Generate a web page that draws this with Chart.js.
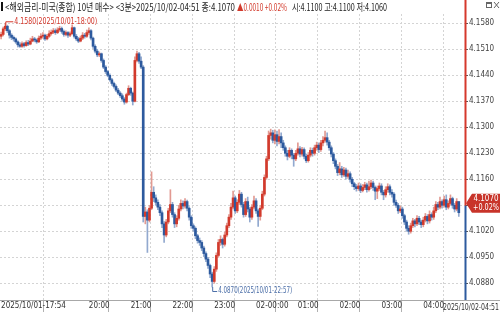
<!DOCTYPE html>
<html><head><meta charset="utf-8">
<script src="https://cdn.jsdelivr.net/npm/chart.js@4/dist/chart.umd.min.js"></script>
<style>html,body{margin:0;padding:0;background:#fff;}#wrap{width:500px;height:314px;}</style>
</head><body><div id="wrap"><canvas id="c" width="500" height="314"></canvas></div>
<script>
// ---- data (3-minute candles, 2025/10/01 17:54 -> 2025/10/02 04:51) ----
const openV=[4.1545,4.1550,4.1565,4.1572,4.1560,4.1548,4.1542,4.1538,4.1530,4.1522,
4.1518,4.1525,4.1520,4.1528,4.1524,4.1532,4.1538,4.1535,4.1530,4.1540,
4.1545,4.1548,4.1538,4.1545,4.1552,4.1556,4.1560,4.1555,4.1562,4.1566,
4.1558,4.1550,4.1555,4.1548,4.1552,4.1568,4.1545,4.1538,4.1532,4.1540,
4.1548,4.1545,4.1555,4.1560,4.1540,4.1518,4.1505,4.1495,4.1498,4.1480,
4.1462,4.1450,4.1440,4.1428,4.1418,4.1410,4.1400,4.1392,4.1385,4.1376,
4.1368,4.1388,4.1405,4.1392,4.1370,4.1480,4.1498,4.1478,4.1462,4.1060,
4.1072,4.1050,4.1082,4.1125,4.1110,4.1098,4.1085,4.1070,4.1040,4.1010,
4.1045,4.1075,4.1092,4.1065,4.1040,4.1055,4.1080,4.1095,4.1088,4.1100,
4.1082,4.1058,4.1035,4.1028,4.1008,4.0995,4.0990,4.0975,4.0960,4.0945,
4.0928,4.0905,4.0885,4.0918,4.0955,4.0990,4.0998,4.0985,4.1010,4.1035,
4.1058,4.1085,4.1110,4.1075,4.1098,4.1120,4.1092,4.1065,4.1100,4.1080,
4.1058,4.1085,4.1102,4.1075,4.1060,4.1082,4.1120,4.1165,4.1215,4.1278,
4.1285,4.1265,4.1280,4.1262,4.1275,4.1258,4.1245,4.1230,4.1222,4.1238,
4.1225,4.1215,4.1230,4.1242,4.1228,4.1240,4.1222,4.1210,4.1225,4.1238,
4.1230,4.1245,4.1252,4.1240,4.1258,4.1265,4.1272,4.1260,4.1245,4.1228,
4.1210,4.1195,4.1178,4.1188,4.1172,4.1185,4.1168,4.1175,4.1160,4.1148,
4.1140,4.1135,4.1142,4.1130,4.1138,4.1145,4.1132,4.1140,4.1150,4.1138,
4.1128,4.1135,4.1142,4.1125,4.1118,4.1132,4.1140,4.1125,4.1120,4.1098,
4.1090,4.1075,4.1080,4.1062,4.1045,4.1028,4.1020,4.1035,4.1048,4.1040,
4.1055,4.1045,4.1038,4.1050,4.1060,4.1048,4.1065,4.1058,4.1075,4.1092,
4.1085,4.1100,4.1090,4.1105,4.1085,4.1095,4.1108,4.1090,4.1080,4.1100];
const highV=[4.1556,4.1570,4.1580,4.1575,4.1563,4.1552,4.1546,4.1541,4.1533,4.1528,
4.1530,4.1529,4.1533,4.1534,4.1540,4.1545,4.1542,4.1538,4.1546,4.1552,
4.1555,4.1551,4.1550,4.1560,4.1562,4.1566,4.1565,4.1568,4.1572,4.1570,
4.1562,4.1560,4.1558,4.1557,4.1576,4.1570,4.1550,4.1542,4.1546,4.1555,
4.1553,4.1562,4.1568,4.1563,4.1543,4.1522,4.1510,4.1503,4.1500,4.1484,
4.1466,4.1453,4.1444,4.1432,4.1422,4.1414,4.1405,4.1396,4.1390,4.1380,
4.1392,4.1412,4.1408,4.1395,4.1490,4.1505,4.1502,4.1490,4.1466,4.1085,
4.1078,4.1090,4.1180,4.1140,4.1118,4.1105,4.1092,4.1075,4.1046,4.1052,
4.1082,4.1132,4.1098,4.1070,4.1062,4.1090,4.1105,4.1102,4.1108,4.1104,
4.1086,4.1062,4.1040,4.1032,4.1012,4.1002,4.0995,4.0980,4.0965,4.0950,
4.0932,4.0910,4.0925,4.0962,4.0998,4.1008,4.1002,4.1018,4.1042,4.1065,
4.1095,4.1128,4.1115,4.1105,4.1130,4.1125,4.1098,4.1108,4.1112,4.1085,
4.1092,4.1115,4.1108,4.1080,4.1090,4.1128,4.1172,4.1222,4.1290,4.1295,
4.1292,4.1293,4.1290,4.1294,4.1285,4.1265,4.1250,4.1238,4.1245,4.1242,
4.1230,4.1238,4.1258,4.1248,4.1246,4.1245,4.1228,4.1232,4.1245,4.1244,
4.1252,4.1260,4.1258,4.1265,4.1275,4.1290,4.1285,4.1265,4.1250,4.1232,
4.1215,4.1200,4.1205,4.1195,4.1192,4.1190,4.1185,4.1180,4.1165,4.1152,
4.1146,4.1150,4.1148,4.1146,4.1152,4.1150,4.1155,4.1158,4.1155,4.1142,
4.1142,4.1150,4.1148,4.1130,4.1140,4.1148,4.1145,4.1132,4.1124,4.1104,
4.1095,4.1088,4.1085,4.1066,4.1050,4.1035,4.1042,4.1055,4.1052,4.1062,
4.1060,4.1050,4.1058,4.1068,4.1065,4.1075,4.1070,4.1085,4.1100,4.1098,
4.1112,4.1105,4.1115,4.1118,4.1102,4.1118,4.1112,4.1095,4.1108,4.1100];
const lowV=[4.1538,4.1546,4.1560,4.1555,4.1540,4.1536,4.1532,4.1526,4.1516,4.1515,
4.1515,4.1516,4.1518,4.1520,4.1522,4.1530,4.1530,4.1526,4.1528,4.1536,
4.1540,4.1534,4.1535,4.1542,4.1548,4.1552,4.1550,4.1552,4.1558,4.1553,
4.1545,4.1546,4.1542,4.1544,4.1550,4.1540,4.1533,4.1528,4.1530,4.1536,
4.1540,4.1542,4.1550,4.1535,4.1512,4.1500,4.1490,4.1490,4.1475,4.1458,
4.1445,4.1436,4.1424,4.1413,4.1405,4.1396,4.1388,4.1380,4.1370,4.1362,
4.1365,4.1385,4.1386,4.1360,4.1368,4.1476,4.1472,4.1458,4.1045,4.1040,
4.0963,4.1045,4.1078,4.1100,4.1090,4.1078,4.1062,4.1030,4.0990,4.1005,
4.1040,4.1070,4.1058,4.1030,4.1032,4.1050,4.1075,4.1080,4.1082,4.1075,
4.1050,4.1028,4.1020,4.1000,4.0988,4.0982,4.0968,4.0952,4.0938,4.0920,
4.0895,4.0870,4.0880,4.0912,4.0950,4.0982,4.0975,4.0980,4.1005,4.1030,
4.1052,4.1080,4.1068,4.1070,4.1092,4.1085,4.1058,4.1060,4.1072,4.1045,
4.1052,4.1080,4.1068,4.1033,4.1050,4.1078,4.1115,4.1160,4.1210,4.1268,
4.1258,4.1255,4.1250,4.1255,4.1245,4.1238,4.1222,4.1212,4.1218,4.1215,
4.1195,4.1210,4.1225,4.1220,4.1222,4.1215,4.1205,4.1206,4.1220,4.1222,
4.1225,4.1238,4.1232,4.1235,4.1250,4.1260,4.1252,4.1238,4.1220,4.1202,
4.1188,4.1170,4.1172,4.1165,4.1168,4.1160,4.1162,4.1152,4.1140,4.1132,
4.1128,4.1130,4.1124,4.1126,4.1132,4.1125,4.1128,4.1135,4.1130,4.1105,
4.1108,4.1130,4.1118,4.1105,4.1112,4.1125,4.1118,4.1112,4.1090,4.1084,
4.1068,4.1070,4.1055,4.1038,4.1020,4.1012,4.1015,4.1030,4.1032,4.1035,
4.1038,4.1030,4.1032,4.1045,4.1040,4.1042,4.1050,4.1052,4.1070,4.1078,
4.1080,4.1082,4.1085,4.1078,4.1080,4.1090,4.1082,4.1072,4.1075,4.1060];
const closeV=[4.1550,4.1565,4.1572,4.1560,4.1548,4.1542,4.1538,4.1530,4.1522,4.1518,
4.1525,4.1520,4.1528,4.1524,4.1532,4.1538,4.1535,4.1530,4.1540,4.1545,
4.1548,4.1538,4.1545,4.1552,4.1556,4.1560,4.1555,4.1562,4.1566,4.1558,
4.1550,4.1555,4.1548,4.1552,4.1568,4.1545,4.1538,4.1532,4.1540,4.1548,
4.1545,4.1555,4.1560,4.1540,4.1518,4.1505,4.1495,4.1498,4.1480,4.1462,
4.1450,4.1440,4.1428,4.1418,4.1410,4.1400,4.1392,4.1385,4.1376,4.1368,
4.1388,4.1405,4.1392,4.1370,4.1480,4.1498,4.1478,4.1462,4.1060,4.1072,
4.1050,4.1082,4.1125,4.1110,4.1098,4.1085,4.1070,4.1040,4.1010,4.1045,
4.1075,4.1092,4.1065,4.1040,4.1055,4.1080,4.1095,4.1088,4.1100,4.1082,
4.1058,4.1035,4.1028,4.1008,4.0995,4.0990,4.0975,4.0960,4.0945,4.0928,
4.0905,4.0885,4.0918,4.0955,4.0990,4.0998,4.0985,4.1010,4.1035,4.1058,
4.1085,4.1110,4.1075,4.1098,4.1120,4.1092,4.1065,4.1100,4.1080,4.1058,
4.1085,4.1102,4.1075,4.1060,4.1082,4.1120,4.1165,4.1215,4.1278,4.1285,
4.1265,4.1280,4.1262,4.1275,4.1258,4.1245,4.1230,4.1222,4.1238,4.1225,
4.1215,4.1230,4.1242,4.1228,4.1240,4.1222,4.1210,4.1225,4.1238,4.1230,
4.1245,4.1252,4.1240,4.1258,4.1265,4.1272,4.1260,4.1245,4.1228,4.1210,
4.1195,4.1178,4.1188,4.1172,4.1185,4.1168,4.1175,4.1160,4.1148,4.1140,
4.1135,4.1142,4.1130,4.1138,4.1145,4.1132,4.1140,4.1150,4.1138,4.1128,
4.1135,4.1142,4.1125,4.1118,4.1132,4.1140,4.1125,4.1120,4.1098,4.1090,
4.1075,4.1080,4.1062,4.1045,4.1028,4.1020,4.1035,4.1048,4.1040,4.1055,
4.1045,4.1038,4.1050,4.1060,4.1048,4.1065,4.1058,4.1075,4.1092,4.1085,
4.1100,4.1090,4.1105,4.1085,4.1095,4.1108,4.1090,4.1080,4.1100,4.1070];
const hourIndex=[0,42,62,82,102,122,142,162,182,202];
const hourLabels=['2025/10/01-17:54','20:00','21:00','22:00','23:00','02-00:00','01:00','02:00','03:00','04:00'];
const lastLabel='2025/10/02-04:51';
const highLabel='4.1580(2025/10/01-18:00)';
const lowLabel='4.0870(2025/10/01-22:57)';
const yTicks=[4.0880,4.0950,4.1020,4.1090,4.1160,4.1230,4.1300,4.1370,4.1440,4.1510,4.1580];
const headerMain='<해외금리-미국(종합) 10년 매수> <3분>2025/10/02-04:51 종:4.1070';
const headerChg='▲0.0010 +0.02%';
const headerOHL='시:4.1100 고:4.1100 저:4.1060';
const boxLines=['4.1070','+0.02%'];

// ---- chart ----
const C_UP='#d23a2c', C_DN='#2d5a9e', W_UP='#e29a92', W_DN='#92a9cf';
const AX_FONT="'DejaVu Sans Condensed','Liberation Sans Narrow','Liberation Sans',sans-serif";
const idx=closeV.map((_,i)=>i);
const isUp=i=>closeV[i]>=openV[i];

const overlay={
  id:'overlay',
  afterDraw(chart){
    const ctx=chart.ctx, ca=chart.chartArea, xs=chart.scales.x, ys=chart.scales.y;
    ctx.save();
    // header
    ctx.fillStyle='#111'; ctx.fillRect(1,2,2,9);
    ctx.textBaseline='middle'; ctx.textAlign='left';
    ctx.font="10px 'Noto Sans CJK KR'";
    ctx.fillStyle='#222'; ctx.fillText(headerMain,5,7,230);
    ctx.fillStyle='#d23a2c'; ctx.fillText(headerChg,237,7,50);
    ctx.fillStyle='#222'; ctx.fillText(headerOHL,292,7,95);
    // window icons
    ctx.strokeStyle='#666'; ctx.lineWidth=1;
    ctx.strokeRect(486.5,2.5,5,5); ctx.fillStyle='#666'; ctx.fillRect(486,2,6,2);
    ctx.beginPath(); ctx.moveTo(494,2); ctx.lineTo(499,8); ctx.moveTo(499,2); ctx.lineTo(494,8); ctx.stroke();
    // bottom axis strip line
    ctx.fillStyle='#a8a8a8'; ctx.fillRect(0,ca.bottom,500,1);
    // last time label
    ctx.font="8px "+AX_FONT; ctx.fillStyle='#333'; ctx.textAlign='right'; ctx.textBaseline='middle';
    ctx.fillText(lastLabel,499,307.5,56);
    // right axis line (red above current price, blue below)
    const last=closeV.length-1;
    const yp=ys.getPixelForValue(closeV[last]);
    const split=yp-7;
    ctx.fillStyle='#d5382c'; ctx.fillRect(ca.right-0.5,0,2,split);
    ctx.fillStyle='#2d5a9e'; ctx.fillRect(ca.right-0.5,split,2,ca.bottom-split);
    // price box
    const bt=yp-19, bb=yp, bm=(bt+bb)/2;
    ctx.fillStyle='#c8342a';
    ctx.beginPath(); ctx.moveTo(ca.right+1,bm); ctx.lineTo(ca.right+7,bt); ctx.lineTo(500,bt); ctx.lineTo(500,bb); ctx.lineTo(ca.right+7,bb); ctx.closePath(); ctx.fill();
    ctx.fillStyle='#fff'; ctx.textAlign='center'; ctx.font="8px "+AX_FONT;
    ctx.fillText(boxLines[0],486,bt+5,26); ctx.fillText(boxLines[1],486,bt+14,26);
    // high/low annotations
    let hi=0, lo=0;
    idx.forEach(i=>{ if(highV[i]>highV[hi]) hi=i; if(lowV[i]<lowV[lo]) lo=i; });
    const hx=xs.getPixelForValue(hi), hy=ys.getPixelForValue(highV[hi]);
    ctx.strokeStyle='#d5382c'; ctx.lineWidth=1;
    ctx.beginPath(); ctx.moveTo(hx+0.5,hy+3); ctx.lineTo(hx+0.5,hy-1.5); ctx.lineTo(hx+8,hy-1.5); ctx.stroke();
    ctx.fillStyle='#d5382c'; ctx.textAlign='left'; ctx.font="9px "+AX_FONT;
    ctx.fillText(highLabel,hx+9,hy-1.5,83);
    const lx=xs.getPixelForValue(lo), ly=ys.getPixelForValue(lowV[lo]);
    ctx.strokeStyle='#4c6fa8';
    ctx.beginPath(); ctx.moveTo(lx+0.5,ly); ctx.lineTo(lx+0.5,ly+4.5); ctx.lineTo(lx+5,ly+4.5); ctx.stroke();
    ctx.fillStyle='#4c6fa8';
    ctx.fillText(lowLabel,lx+6,ly+4,74);
    ctx.restore();
  }
};

new Chart(document.getElementById('c'),{
  type:'bar',
  data:{datasets:[
    {data:idx.map(i=>({x:i,y:[openV[i],closeV[i]]})),barThickness:2,minBarLength:1,grouped:false,borderWidth:0,
     backgroundColor:c=>isUp(c.dataIndex)?C_UP:C_DN},
    {data:idx.map(i=>({x:i,y:[lowV[i],highV[i]]})),barThickness:1,grouped:false,borderWidth:0,
     backgroundColor:c=>isUp(c.dataIndex)?W_UP:W_DN}
  ]},
  options:{
    responsive:false,animation:false,devicePixelRatio:1,
    layout:{padding:{top:14,left:0,right:0,bottom:0}},
    plugins:{legend:{display:false},tooltip:{enabled:false}},
    scales:{
      x:{type:'linear',min:-0.53,max:221.97,offset:false,
        afterBuildTicks:s=>{s.ticks=hourIndex.map(i=>({value:i-0.5}));},
        afterFit:s=>{s.height=14;},
        ticks:{autoSkip:false,maxRotation:0,minRotation:0,align:'start',labelOffset:1,padding:-11,
          color:'#333',font:{size:8,family:AX_FONT},
          callback:(v,k)=>hourLabels[k]},
        grid:{color:'#d4d4d4',tickColor:'#b0b0b0',tickLength:12,drawTicks:true},
        border:{display:false,dash:[2,2]}},
      y:{position:'right',min:4.0835,max:4.1605,
        afterBuildTicks:s=>{s.ticks=yTicks.map(v=>({value:v}));},
        afterFit:s=>{s.width=35;},
        ticks:{color:'#444',font:{size:8,family:AX_FONT},padding:1,callback:v=>v.toFixed(4)},
        grid:{color:'#d4d4d4',tickColor:'#555',tickLength:3},
        border:{display:false,dash:[2,2]}}
    }
  },
  plugins:[overlay]
});
</script></body></html>
